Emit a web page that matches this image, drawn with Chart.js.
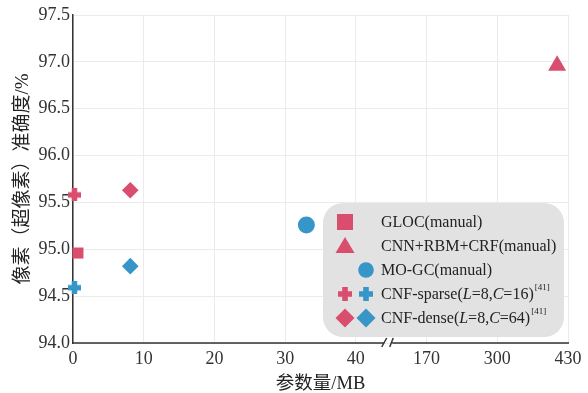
<!DOCTYPE html>
<html>
<head>
<meta charset="utf-8">
<script src="https://cdn.jsdelivr.net/npm/chart.js@4.4.0/dist/chart.umd.min.js"></script>
<style>
  html, body { margin: 0; padding: 0; background: #fff; }
</style>
</head>
<body>
<canvas id="c" width="588" height="393"></canvas>
<script>
// x轴刻度（40 之后断轴）
const xTickLabels = [0, 10, 20, 30, 40, 170, 300, 430];
const yTicks = [94.0, 94.5, 95.0, 95.5, 96.0, 96.5, 97.0, 97.5];

// 各方法：参数量(MB) 和 准确度(%)
const seriesNames = ['GLOC', 'CNN+RBM+CRF', 'MO-GC', 'CNF-sparse 像素', 'CNF-sparse 超像素', 'CNF-dense 像素', 'CNF-dense 超像素'];
const paramSize = [0.7, 410, 33.0, 0.2, 0.2, 8.1, 8.1];
const accuracy = [94.96, 96.96, 95.26, 95.58, 94.59, 95.63, 94.82];

const RED = '#da4e6d';
const BLUE = '#3596c7';
const SERIF = "Liberation Serif, Noto Sans CJK SC, serif";

Chart.defaults.font.family = SERIF;

// 断轴映射：0-40 每格 10，之后每格 130
const toAxis = mb => mb <= 40 ? mb / 10 : 4 + (mb - 40) / 130;

const plusImage = (color, size, arm) => {
    const c = document.createElement('canvas');
    c.width = size; c.height = size;
    const g = c.getContext('2d');
    g.fillStyle = color;
    const a = (size - arm) / 2;
    g.fillRect(a, 0, arm, size);
    g.fillRect(0, a, size, arm);
    return c;
};

const pointStyles = ['rect', 'triangle', 'circle', plusImage(RED, 13, 5.5), plusImage(BLUE, 13, 5.5), 'rectRot', 'rectRot'];
const pointColors = [RED, RED, BLUE, RED, BLUE, RED, BLUE];
const pointRadius = [7.8, 10.4, 8.5, 7, 7, 8.3, 8.3];

const datasets = seriesNames.map((name, i) => ({
    label: name,
    data: [{ x: toAxis(paramSize[i]), y: accuracy[i] }],
    pointStyle: pointStyles[i],
    backgroundColor: pointColors[i],
    borderWidth: 0,
    pointRadius: pointRadius[i],
    clip: false
}));

// 图例形状
const drawMark = (ctx, shape, x, y, color) => {
    ctx.fillStyle = color;
    ctx.beginPath();
    if (shape === 'rect') {
        ctx.rect(x - 8, y - 8, 16, 16);
    } else if (shape === 'triangle') {
        ctx.moveTo(x, y - 9); ctx.lineTo(x + 9.5, y + 7); ctx.lineTo(x - 9.5, y + 7); ctx.closePath();
    } else if (shape === 'circle') {
        ctx.arc(x, y, 7.8, 0, Math.PI * 2);
    } else if (shape === 'plus') {
        ctx.rect(x - 2.8, y - 7, 5.6, 14);
        ctx.rect(x - 7, y - 2.8, 14, 5.6);
    } else if (shape === 'diamond') {
        ctx.moveTo(x, y - 9.5); ctx.lineTo(x + 9.5, y); ctx.lineTo(x, y + 9.5); ctx.lineTo(x - 9.5, y); ctx.closePath();
    }
    ctx.fill();
};

const legendRows = [
    { red: 'rect', blue: null, parts: [['GLOC(manual)', '']] },
    { red: 'triangle', blue: null, parts: [['CNN+RBM+CRF(manual)', '']] },
    { red: null, blue: 'circle', parts: [['MO-GC(manual)', '']] },
    { red: 'plus', blue: 'plus', parts: [['CNF-sparse(', ''], ['L', 'italic'], ['=8,', ''], ['C', 'italic'], ['=16)', ''], ['[41]', 'sup']] },
    { red: 'diamond', blue: 'diamond', parts: [['CNF-dense(', ''], ['L', 'italic'], ['=8,', ''], ['C', 'italic'], ['=64)', ''], ['[41]', 'sup']] }
];

const boxLegend = {
    id: 'boxLegend',
    afterDraw(chart) {
        const ctx = chart.ctx;
        ctx.save();
        ctx.fillStyle = '#e2e2e2';
        ctx.beginPath();
        ctx.roundRect(323, 203, 241, 134, 20);
        ctx.fill();
        ctx.textBaseline = 'middle';
        legendRows.forEach((row, i) => {
            const y = 222 + i * 24;
            if (row.red) drawMark(ctx, row.red, 345, y, RED);
            if (row.blue) drawMark(ctx, row.blue, 366, y, BLUE);
            let x = 381;
            row.parts.forEach(([t, f]) => {
                if (f === 'sup') {
                    ctx.font = '9px ' + SERIF;
                    ctx.fillStyle = '#222';
                    ctx.fillText(t, x + 1, y - 6);
                    x += ctx.measureText(t).width + 1;
                } else {
                    ctx.font = (f === 'italic' ? 'italic ' : '') + '16px ' + SERIF;
                    ctx.fillStyle = '#222';
                    ctx.fillText(t, x, y + 1);
                    x += ctx.measureText(t).width;
                }
            });
        });
        ctx.restore();
    },
    beforeDatasetsDraw(chart) {
        // 带断口的 x 轴线
        const { ctx, chartArea, scales } = chart;
        const bx = scales.x.getPixelForValue(4.5) - 3;
        const yb = chartArea.bottom;
        ctx.save();
        ctx.strokeStyle = '#333';
        ctx.lineWidth = 1.5;
        ctx.beginPath();
        ctx.moveTo(chartArea.left, yb); ctx.lineTo(bx - 4, yb);
        ctx.moveTo(bx + 4, yb); ctx.lineTo(chartArea.right + 1, yb);
        ctx.moveTo(bx - 6.5, yb + 4); ctx.lineTo(bx - 1.5, yb - 5);
        ctx.moveTo(bx + 1.5, yb + 4); ctx.lineTo(bx + 5, yb - 5);
        ctx.stroke();
        ctx.restore();
    }
};

new Chart('c', {
    type: 'scatter',
    data: { datasets },
    options: {
        responsive: false,
        animation: false,
        events: [],
        layout: { padding: { left: 0, right: 20, top: 15, bottom: 0 } },
        plugins: {
            legend: { display: false },
            tooltip: { enabled: false }
        },
        scales: {
            x: {
                type: 'linear',
                min: 0,
                max: 7,
                afterFit: s => { s.height = 50; },
                afterBuildTicks: s => { s.ticks = xTickLabels.map((v, i) => ({ value: i })); },
                ticks: {
                    padding: 5,
                    color: '#333',
                    font: { size: 18 },
                    callback: (v) => xTickLabels[v]
                },
                grid: { color: '#ebebeb', drawTicks: false },
                border: { display: false },
                title: {
                    display: true,
                    text: '参数量/MB',
                    color: '#222',
                    font: { size: 18.5 },
                    padding: { top: 0, bottom: -2 }
                }
            },
            y: {
                min: 94,
                max: 97.5,
                afterFit: s => { s.width = 73; },
                afterBuildTicks: s => { s.ticks = yTicks.map(v => ({ value: v })); },
                ticks: {
                    padding: 3,
                    color: '#333',
                    font: { size: 18 },
                    callback: v => v.toFixed(1)
                },
                grid: { color: '#ebebeb', drawTicks: false },
                border: { color: '#333', width: 1.5 },
                title: {
                    display: true,
                    text: '像素（超像素）准确度/%',
                    color: '#222',
                    font: { size: 19 },
                    padding: { top: 12, bottom: 0 }
                }
            }
        }
    },
    plugins: [boxLegend]
});
</script>
</body>
</html>
